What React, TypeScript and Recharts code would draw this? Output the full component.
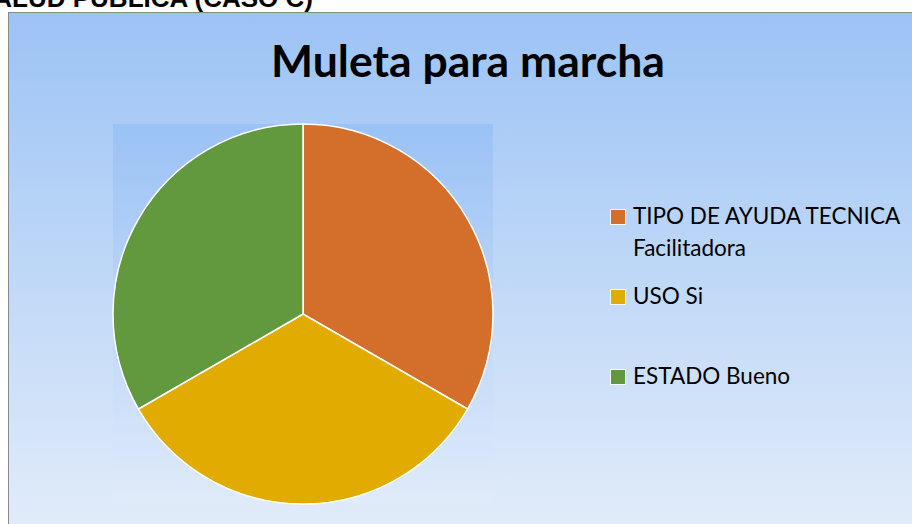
import { PieChart, Pie, Cell, Legend } from "recharts";

// slice names, as in the legend (first one wraps on two lines)
const categories = ["TIPO DE AYUDA TECNICA Facilitadora", "USO Si", "ESTADO Bueno"];
const legendLines = [["TIPO DE AYUDA TECNICA", "Facilitadora"], ["USO Si"], ["ESTADO Bueno"]];
const values = [1, 1, 1];
const colors = ["#D46F2B", "#E1AB00", "#63993E"];

const title = "Muleta para marcha";
const pageHeading = "SALUD PUBLICA (CASO C)";

const data = categories.map((name, i) => ({ name, value: values[i] }));

function LegendBox() {
  return (
    <div style={{ position: "relative", width: 300, height: 240 }}>
      {legendLines.map((lines, i) => (
        <div
          key={categories[i]}
          style={{ position: "absolute", left: 0, top: i * 80, display: "flex" }}
        >
          <div
            style={{
              width: 14,
              height: 14,
              marginTop: 10,
              background: colors[i],
              boxShadow: "0 0 0 1px rgba(255,255,255,0.8)",
              flex: "none",
            }}
          />
          <div
            style={{
              marginLeft: 8,
              fontFamily: "Lato",
              fontSize: 22.5,
              lineHeight: "32px",
              color: "#000",
              whiteSpace: "nowrap",
            }}
          >
            {lines.map((l) => (
              <div key={l}>{l}</div>
            ))}
          </div>
        </div>
      ))}
    </div>
  );
}

export default function App() {
  return (
    <div style={{ position: "absolute", left: 0, top: 0, width: 912, height: 524, overflow: "hidden", background: "#fff" }}>
      {/* chart area */}
      <div
        style={{
          position: "absolute",
          left: 8,
          top: 12,
          width: 904,
          height: 512,
          borderLeft: "1px solid #8a8a8a",
          borderTop: "1px solid #8a8a8a",
          background: "linear-gradient(to bottom, #9CC3F5, #E1ECFA)",
        }}
      />
      {/* plot area */}
      <div
        style={{
          position: "absolute",
          left: 113,
          top: 124,
          width: 380,
          height: 380,
          background: "linear-gradient(to bottom, #9AC2F5, #E0EBFA)",
        }}
      />
      <svg width={912} height={524} style={{ position: "absolute", left: 0, top: 0 }}>
        <text
          x={313}
          y={7}
          textAnchor="end"
          fontFamily="Liberation Sans"
          fontWeight="bold"
          fontSize={26}
          fill="#000"
        >
          {pageHeading}
        </text>
        <text
          x={468}
          y={77}
          textAnchor="middle"
          fontFamily="Lato"
          fontWeight="bold"
          fontSize={44.5}
          fill="#000"
        >
          {title}
        </text>
      </svg>
      <div style={{ position: "absolute", left: 0, top: 0 }}>
        <PieChart width={912} height={524} margin={{ top: 0, right: 0, bottom: 0, left: 0 }}>
          <Pie
            data={data}
            dataKey="value"
            nameKey="name"
            cx={303}
            cy={314}
            outerRadius={190}
            startAngle={90}
            endAngle={-270}
            stroke="#fff"
            strokeWidth={1.5}
            isAnimationActive={false}
          >
            {data.map((d, i) => (
              <Cell key={d.name} fill={colors[i]} />
            ))}
          </Pie>
          <Legend
            layout="vertical"
            align="right"
            verticalAlign="top"
            content={() => <LegendBox />}
            wrapperStyle={{ left: 611, top: 200, width: 300, right: "auto" }}
          />
        </PieChart>
      </div>
    </div>
  );
}
